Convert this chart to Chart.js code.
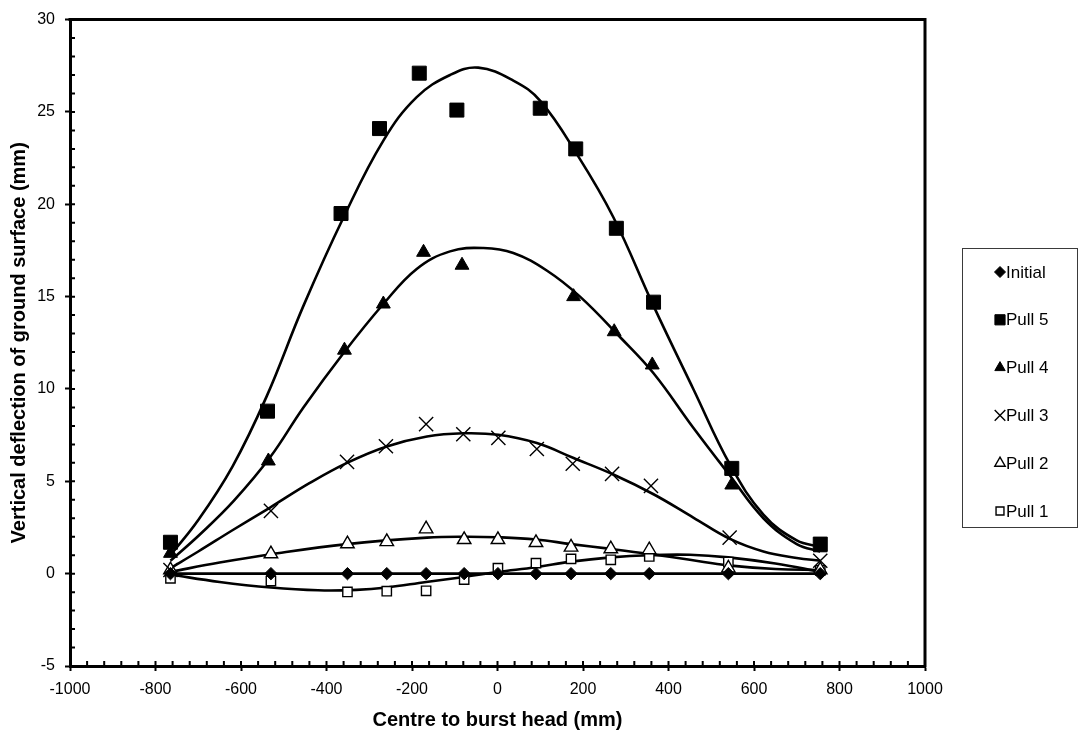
<!DOCTYPE html>
<html>
<head>
<meta charset="utf-8">
<script src="https://cdn.jsdelivr.net/npm/chart.js@4/dist/chart.umd.min.js"></script>
<style>
  html, body { margin: 0; padding: 0; background: #fff; }
  #wrap { width: 1079px; height: 735px; position: relative; }
</style>
</head>
<body>
<div id="wrap"><canvas id="c" width="1079" height="735"></canvas></div>
<script>
// ---- Data ----
const seriesNames = ['Initial', 'Pull 5', 'Pull 4', 'Pull 3', 'Pull 2', 'Pull 1'];

// measured points (x = centre to burst head, mm; y = vertical deflection, mm)
const initialX = [-765, -530, -351, -259, -167, -78, 1, 90, 172, 265, 355, 540, 755];
const initialY = [0, 0, 0, 0, 0, 0, 0, 0, 0, 0, 0, 0, 0];

const pull5X = [-765, -538, -366, -276, -183, -95, 100, 183, 278, 365, 548, 755];
const pull5Y = [1.7, 8.8, 19.5, 24.1, 27.1, 25.1, 25.2, 23.0, 18.7, 14.7, 5.7, 1.6];

const pull4X = [-765, -536, -358, -267, -173, -83, 178, 273, 362, 548, 755];
const pull4Y = [1.1, 6.1, 12.1, 14.6, 17.4, 16.7, 15.0, 13.1, 11.3, 4.8, 1.4];

const pull3X = [-765, -530, -352, -261, -167, -80, 2, 92, 176, 268, 359, 543, 755];
const pull3Y = [0.2, 3.4, 6.05, 6.9, 8.1, 7.55, 7.35, 6.75, 5.95, 5.4, 4.75, 1.95, 0.7];

const pull2X = [-765, -530, -351, -259, -167, -78, 1, 90, 172, 265, 355, 540, 755];
const pull2Y = [0.2, 1.07, 1.61, 1.73, 2.42, 1.84, 1.84, 1.68, 1.43, 1.34, 1.29, 0.3, 0.2];

const pull1X = [-765, -530, -351, -259, -167, -78, 1, 90, 172, 265, 355, 540, 755];
const pull1Y = [-0.25, -0.4, -0.99, -0.95, -0.93, -0.32, 0.3, 0.57, 0.8, 0.75, 0.93, 0.63, 0.18];

// trend curves, values
const initialCurveX = [-765, 755];
const initialCurveY = [0, 0];

const pull5CurveX = [-765, -700, -620, -540, -454, -360, -267, -189, -111, -45, 37, 100, 186, 271, 365, 458, 544, 622, 700, 755];
const pull5CurveY = [1.0, 2.9, 5.8, 9.6, 14.5, 19.3, 23.45, 25.8, 27.0, 27.4, 26.7, 25.6, 22.7, 19.3, 14.5, 10.0, 5.9, 3.2, 1.8, 1.45];

const pull4CurveX = [-765, -695, -617, -532, -454, -360, -267, -189, -111, -33, 37, 116, 193, 287, 365, 458, 544, 622, 700, 755];
const pull4CurveY = [0.7, 2.15, 3.94, 6.3, 9.0, 11.95, 14.6, 16.5, 17.45, 17.63, 17.36, 16.4, 15.0, 12.8, 10.85, 7.9, 5.3, 3.0, 1.6, 1.2];

const pull3CurveX = [-765, -700, -620, -532, -440, -352, -259, -165, -80, 2, 92, 178, 271, 365, 458, 544, 622, 700, 755];
const pull3CurveY = [0.3, 1.2, 2.35, 3.58, 4.9, 6.0, 6.89, 7.43, 7.6, 7.52, 7.07, 6.26, 5.37, 4.3, 3.04, 1.88, 1.2, 0.85, 0.7];

const pull2CurveX = [-765, -650, -530, -352, -165, -78, 1, 90, 172, 265, 355, 450, 540, 650, 755];
const pull2CurveY = [0.1, 0.6, 1.05, 1.6, 1.95, 2.0, 1.97, 1.85, 1.6, 1.34, 1.07, 0.75, 0.45, 0.25, 0.2];

const pull1CurveX = [-765, -650, -530, -420, -330, -259, -167, -78, 1, 90, 172, 265, 355, 450, 540, 650, 755];
const pull1CurveY = [-0.05, -0.45, -0.75, -0.9, -0.88, -0.75, -0.45, -0.18, 0.09, 0.35, 0.65, 0.88, 1.0, 1.02, 0.88, 0.55, 0.1];

const xTickMin = -1000, xTickMax = 1000, xTickStep = 200;
const yTickMin = -5, yTickMax = 30, yTickStep = 5;

// ---- Build chart ----
function pts(xs, ys) { return xs.map((x, i) => ({ x: x, y: ys[i] })); }

const markerStyles = {
  'Initial': { pointStyle: 'rectRot', radius: 6.2, fill: '#000', border: '#000', bw: 1, lr: 5.5 },
  'Pull 5':  { pointStyle: 'rect', radius: 9.9, fill: '#000', border: '#000', bw: 1, lr: 7.2 },
  'Pull 4':  { pointStyle: 'triangle', radius: 8, fill: '#000', border: '#000', bw: 1, lr: 6 },
  'Pull 3':  { pointStyle: 'crossRot', radius: 10, fill: '#000', border: '#000', bw: 1.4, lr: 7.5 },
  'Pull 2':  { pointStyle: 'triangle', radius: 7.8, fill: '#fff', border: '#000', bw: 1.4, lr: 6 },
  'Pull 1':  { pointStyle: 'rect', radius: 6.6, fill: '#fff', border: '#000', bw: 1.4, lr: 5.6 }
};

const pointSets = {
  'Initial': pts(initialX, initialY),
  'Pull 5': pts(pull5X, pull5Y),
  'Pull 4': pts(pull4X, pull4Y),
  'Pull 3': pts(pull3X, pull3Y),
  'Pull 2': pts(pull2X, pull2Y),
  'Pull 1': pts(pull1X, pull1Y)
};
const curveSets = {
  'Initial': pts(initialCurveX, initialCurveY),
  'Pull 5': pts(pull5CurveX, pull5CurveY),
  'Pull 4': pts(pull4CurveX, pull4CurveY),
  'Pull 3': pts(pull3CurveX, pull3CurveY),
  'Pull 2': pts(pull2CurveX, pull2CurveY),
  'Pull 1': pts(pull1CurveX, pull1CurveY)
};

const datasets = [];
seriesNames.forEach(name => {
  datasets.push({
    label: name + ' trend',
    data: curveSets[name],
    showLine: true,
    borderColor: '#000',
    borderWidth: 2.6,
    pointRadius: 0,
    tension: 0.4,
    fill: false,
    order: 2
  });
});
seriesNames.forEach(name => {
  const m = markerStyles[name];
  datasets.push({
    label: name,
    data: pointSets[name],
    showLine: false,
    pointStyle: m.pointStyle,
    pointRadius: m.radius,
    pointBackgroundColor: m.fill,
    pointBorderColor: m.border,
    pointBorderWidth: m.bw,
    order: 1
  });
});

const FONT = "'Liberation Sans', Arial, sans-serif";

const framePlugin = {
  id: 'frame',
  afterDraw(chart) {
    const ctx = chart.ctx;
    const a = chart.chartArea;
    const xs = chart.scales.x, ys = chart.scales.y;
    ctx.save();
    ctx.strokeStyle = '#000';
    // top and right frame lines
    ctx.lineWidth = 3;
    ctx.beginPath();
    ctx.moveTo(a.left - 1.5, a.top);
    ctx.lineTo(a.right, a.top);
    ctx.lineTo(a.right, a.bottom + 1.5);
    ctx.stroke();
    // inner ticks (minor + major inside part)
    ctx.lineWidth = 2;
    ctx.beginPath();
    for (let v = xTickMin; v <= xTickMax; v += xTickStep / 5) {
      const px = xs.getPixelForValue(v);
      ctx.moveTo(px, a.bottom);
      ctx.lineTo(px, a.bottom - 5);
    }
    for (let v = yTickMin; v <= yTickMax; v += yTickStep / 5) {
      const py = ys.getPixelForValue(v);
      ctx.moveTo(a.left, py);
      ctx.lineTo(a.left + 5, py);
    }
    ctx.stroke();

    // legend box
    const box = { l: 962.5, t: 248.5, r: 1077.5, b: 527.5 };
    ctx.lineWidth = 1;
    ctx.strokeStyle = '#3a3a3a';
    ctx.strokeRect(box.l, box.t, box.r - box.l, box.b - box.t);
    const rowTop = 272, rowStep = 47.8;
    ctx.font = '17px ' + FONT;
    ctx.textBaseline = 'middle';
    ctx.textAlign = 'left';
    seriesNames.forEach((name, i) => {
      const m = markerStyles[name];
      const y = rowTop + i * rowStep;
      ctx.fillStyle = m.fill;
      ctx.strokeStyle = m.border;
      ctx.lineWidth = m.bw;
      Chart.helpers.drawPoint(ctx, { pointStyle: m.pointStyle, radius: m.lr, rotation: 0, borderWidth: m.bw }, 1000, y);
      ctx.fillStyle = '#000';
      ctx.fillText(name, 1006, y + 1);
    });
    ctx.restore();
  }
};

new Chart(document.getElementById('c'), {
  type: 'scatter',
  data: { datasets: datasets },
  options: {
    responsive: false,
    animation: false,
    devicePixelRatio: 1,
    layout: { padding: { top: 15, right: 154, left: 0, bottom: 0 } },
    plugins: {
      legend: { display: false },
      tooltip: { enabled: false }
    },
    scales: {
      x: {
        type: 'linear',
        min: xTickMin, max: xTickMax,
        ticks: { stepSize: xTickStep, color: '#000', font: { family: FONT, size: 16 }, padding: 9, maxRotation: 0, callback: v => String(v) },
        grid: { drawOnChartArea: false, drawTicks: true, tickLength: 5, tickWidth: 2, tickColor: '#000', color: '#000' },
        border: { display: true, width: 3, color: '#000' },
        title: { display: true, text: 'Centre to burst head (mm)', color: '#000', font: { family: FONT, size: 20, weight: 'bold' }, padding: { top: 0, bottom: 3 } },
        afterFit(scale) { scale.height = 69; }
      },
      y: {
        type: 'linear',
        min: yTickMin, max: yTickMax,
        ticks: { stepSize: yTickStep, color: '#000', font: { family: FONT, size: 16 }, padding: 10, callback: v => String(v) },
        grid: { drawOnChartArea: false, drawTicks: true, tickLength: 5, tickWidth: 2, tickColor: '#000', color: '#000' },
        border: { display: true, width: 3, color: '#000' },
        title: { display: true, text: 'Vertical deflection of ground surface (mm)', color: '#000', font: { family: FONT, size: 20, weight: 'bold' }, padding: { top: 7, bottom: 0 } },
        afterFit(scale) { scale.width = 70; }
      }
    }
  },
  plugins: [framePlugin]
});
</script>
</body>
</html>
